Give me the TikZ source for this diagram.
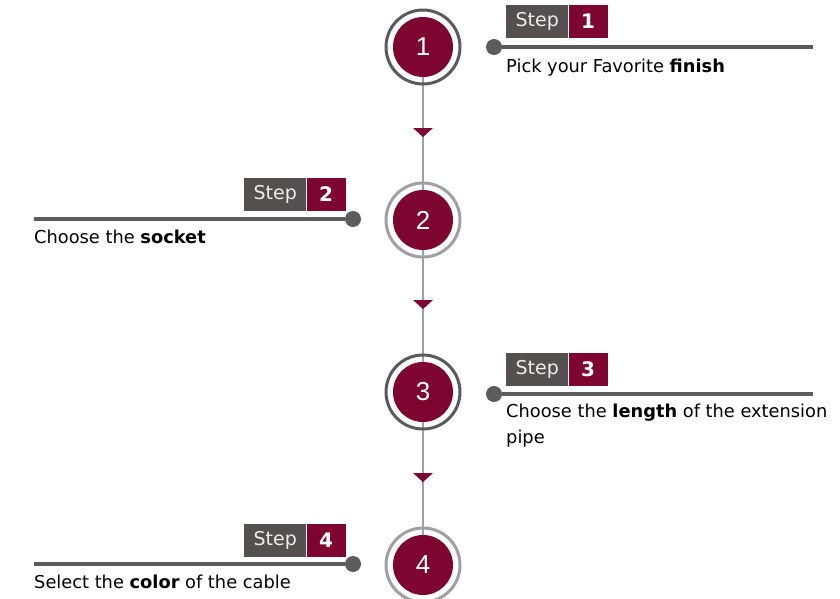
\documentclass[tikz,border=0pt]{standalone}
\usepackage{fontspec}
\setmainfont{DejaVu Sans}
\newfontfamily\numfont{Liberation Sans}
\definecolor{maroon}{HTML}{7D0530}
\definecolor{boxgray}{HTML}{555050}
\definecolor{darkring}{HTML}{5A5A5A}
\definecolor{lightring}{HTML}{A0A0A0}
\definecolor{linegray}{HTML}{5C5C5C}
\begin{document}
\begin{tikzpicture}[x=1pt,y=-1pt,
  disc/.style={circle,fill=maroon,minimum size=60pt,inner sep=0pt,text=white,font=\numfont\fontsize{26}{26}\selectfont},
  ringdark/.style={circle,draw=darkring,line width=3pt,minimum size=74pt,inner sep=0pt},
  ringlight/.style={circle,draw=lightring,line width=3pt,minimum size=74pt,inner sep=0pt},
  steplbl/.style={fill=boxgray,text=white!93!black,minimum width=62pt,minimum height=33pt,inner sep=0pt,font=\fontsize{19}{19}\selectfont},
  stepnum/.style={fill=maroon,text=white,minimum width=39pt,minimum height=33pt,inner sep=0pt,font=\bfseries\fontsize{20}{20}\selectfont},
  dotnode/.style={circle,fill=linegray,minimum size=16pt,inner sep=0pt},
  leader/.style={draw=linegray,line width=3.5pt},
  spine/.style={draw=lightring,line width=2.8pt},
  arrowtri/.style={fill=maroon},
  desc/.style={anchor=base west,inner sep=0pt,align=left,font=\fontsize{17.8}{26}\selectfont}
]
\useasboundingbox (0,0) rectangle (840,598);
% centres
\coordinate (c1) at (423,47);
\coordinate (c2) at (423,220);
\coordinate (c3) at (423,392);
\coordinate (c4) at (423,565);
% spine
\draw[spine] (c1) -- (c4);
% arrow heads
\foreach \yy in {128,300,473}{
  \fill[arrowtri] (413,\yy) -- (433,\yy) -- (423,\yy+9) -- cycle;
}
% circles
\node[ringdark] (r1) at (c1) {};
\node[ringlight] (r2) at (c2) {};
\node[ringdark] (r3) at (c3) {};
\node[ringlight] (r4) at (c4) {};
\node[disc] (d1) at (c1) {1};
\node[disc] (d2) at (c2) {2};
\node[disc] (d3) at (c3) {3};
\node[disc] (d4) at (c4) {4};
% step 1
\node[steplbl,anchor=west] (s1) at (506,21.5) {Step};
\node[stepnum,anchor=west] (n1) at (s1.east) {1};
\coordinate (e1) at (813,47);
\node[dotnode] (p1) at (494,47) {};
\draw[leader] (p1) -- (e1);
\node[desc] (t1) at (506,72) {Pick your Favorite \textbf{finish}};
% step 2
\node[steplbl,anchor=west] (s2) at (244,194) {Step};
\node[stepnum,anchor=west] (n2) at (s2.east) {2};
\coordinate (e2) at (34,219);
\node[dotnode] (p2) at (353,219) {};
\draw[leader] (p2) -- (e2);
\node[desc] (t2) at (34,243) {Choose the \textbf{socket}};
% step 3
\node[steplbl,anchor=west] (s3) at (506,369) {Step};
\node[stepnum,anchor=west] (n3) at (s3.east) {3};
\coordinate (e3) at (813,394);
\node[dotnode] (p3) at (494,394) {};
\draw[leader] (p3) -- (e3);
\node[desc] (t3) at (506,443) {Choose the \textbf{length} of the extension\\pipe};
% step 4
\node[steplbl,anchor=west] (s4) at (244,540) {Step};
\node[stepnum,anchor=west] (n4) at (s4.east) {4};
\coordinate (e4) at (34,564);
\node[dotnode] (p4) at (353,564) {};
\draw[leader] (p4) -- (e4);
\node[desc] (t4) at (34,588) {Select the \textbf{color} of the cable};
\end{tikzpicture}
\end{document}
